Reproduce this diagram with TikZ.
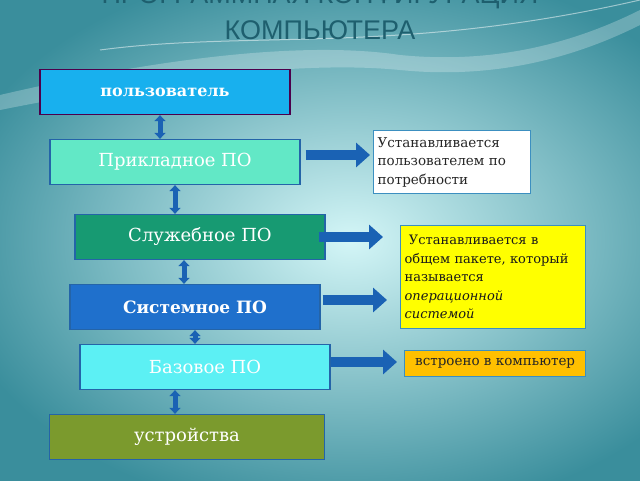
\documentclass[tikz,border=0pt]{standalone}
\usepackage{fontspec}
\setmainfont{DejaVu Serif}
\newfontfamily\titlefont{Liberation Sans}
\usetikzlibrary{arrows.meta}
\definecolor{bgdark}{HTML}{3A8E9C}
\definecolor{bglight}{HTML}{D4F6F7}
\definecolor{titlec}{HTML}{1E5F6E}
\definecolor{arrc}{HTML}{1A62B4}
\definecolor{edgec}{HTML}{2464A8}
\definecolor{cuser}{HTML}{18B0EE}
\definecolor{capp}{HTML}{62E8C6}
\definecolor{cutil}{HTML}{179A72}
\definecolor{csys}{HTML}{1F70CC}
\definecolor{cbase}{HTML}{5CF0F4}
\definecolor{cdev}{HTML}{7B9A2D}
\definecolor{cyel}{HTML}{FFFF00}
\definecolor{corange}{HTML}{FFC000}
\definecolor{notec}{HTML}{3C8FC0}
\tikzset{
  layer/.style={draw=edgec, line width=1.3pt, minimum width=250pt, minimum height=45pt, inner sep=0pt, text=white, font=\fontsize{18}{20}\selectfont},
  notebox/.style={draw=notec, line width=1.3pt, inner xsep=4pt, inner ysep=4pt, align=left, anchor=north west, text=black!85, font=\fontsize{13.5}{18.5}\selectfont},
  dbl/.style={{Triangle[width=11pt,length=6pt]}-{Triangle[width=11pt,length=6pt]}, line width=5pt, draw=arrc},
  bigarr/.style={-{Triangle[width=24pt,length=14pt]}, line width=10pt, draw=arrc}
}
\begin{document}
\begin{tikzpicture}[x=1pt,y=-1pt]
\useasboundingbox (0,0) rectangle (640,480);
\begin{scope}
\clip (0,0) rectangle (640,480);
\fill[bgdark] (0,0) rectangle (640,480);
\shade[inner color=bglight, outer color=bgdark] (-60,-40) rectangle (760,520);
\fill[white, opacity=0.25] (0,95) .. controls (150,60) and (300,40) .. (400,55) .. controls (500,65) and (580,40) .. (640,10) -- (640,25) .. controls (580,55) and (500,80) .. (400,70) .. controls (300,60) and (150,80) .. (0,110) -- cycle;
\draw[white, opacity=0.5, line width=1pt] (100,50) .. controls (250,30) and (400,55) .. (640,0);
\node[font=\titlefont\fontsize{27}{30}\selectfont, text=titlec] (t1) at (320,-3) {ПРОГРАММНАЯ КОНФИГУРАЦИЯ};
\node[font=\titlefont\fontsize{27}{30}\selectfont, text=titlec] (t2) at (320,30) {КОМПЬЮТЕРА};
\end{scope}

\node[layer, fill=cuser, draw=violet!60!black, font=\bfseries\fontsize{16}{20}\selectfont] (user) at (165,92) {пользователь};
\node[layer, fill=capp] (app) at (175,162) {Прикладное ПО};
\node[layer, fill=cutil] (util) at (200,237) {Служебное ПО};
\node[layer, fill=csys, font=\bfseries\fontsize{17}{20}\selectfont] (sys) at (195,307) {Системное ПО};
\node[layer, fill=cbase] (base) at (205,367) {Базовое ПО};
\node[layer, fill=cdev, minimum width=275pt, font=\fontsize{18}{20}\selectfont] (dev) at (187,437) {устройства};

\node[notebox, fill=white, text width=149pt, minimum height=63pt] (n1) at (373,130) {Устанавливается\\пользователем по\\потребности};
\node[notebox, fill=cyel, text width=177pt, minimum height=103pt, text=black!90, font=\fontsize{13}{18.5}\selectfont] (n2) at (400,225) {\ Устанавливается в\\общем пакете, который\\называется\\\textit{операционной}\\\textit{системой}};
\node[notebox, fill=corange, minimum width=181pt, minimum height=26pt, inner sep=2pt, align=center, font=\fontsize{13.5}{14}\selectfont] (n3) at (404,350) {встроено в компьютер};

\draw[dbl] (user.south -| 160,0) -- (app.north -| 160,0);
\draw[dbl] (app.south -| 175,0) -- (util.north -| 175,0);
\draw[dbl] (util.south -| 184,0) -- (sys.north -| 184,0);
\draw[dbl] (sys.south -| 195,0) -- (base.north -| 195,0);
\draw[dbl] (base.south -| 175,0) -- (dev.north -| 175,0);

\draw[bigarr] ([xshift=5pt,yshift=7pt]app.east) -- ([xshift=-3pt]n1.west |- 0,155);
\draw[bigarr] ([xshift=-7pt]util.east) -- (383,237);
\draw[bigarr] ([xshift=2pt,yshift=7pt]sys.east) -- (387,300);
\draw[bigarr] ([yshift=5pt]base.east) -- ([xshift=-7pt]n3.west |- 0,362);
\end{tikzpicture}
\end{document}
